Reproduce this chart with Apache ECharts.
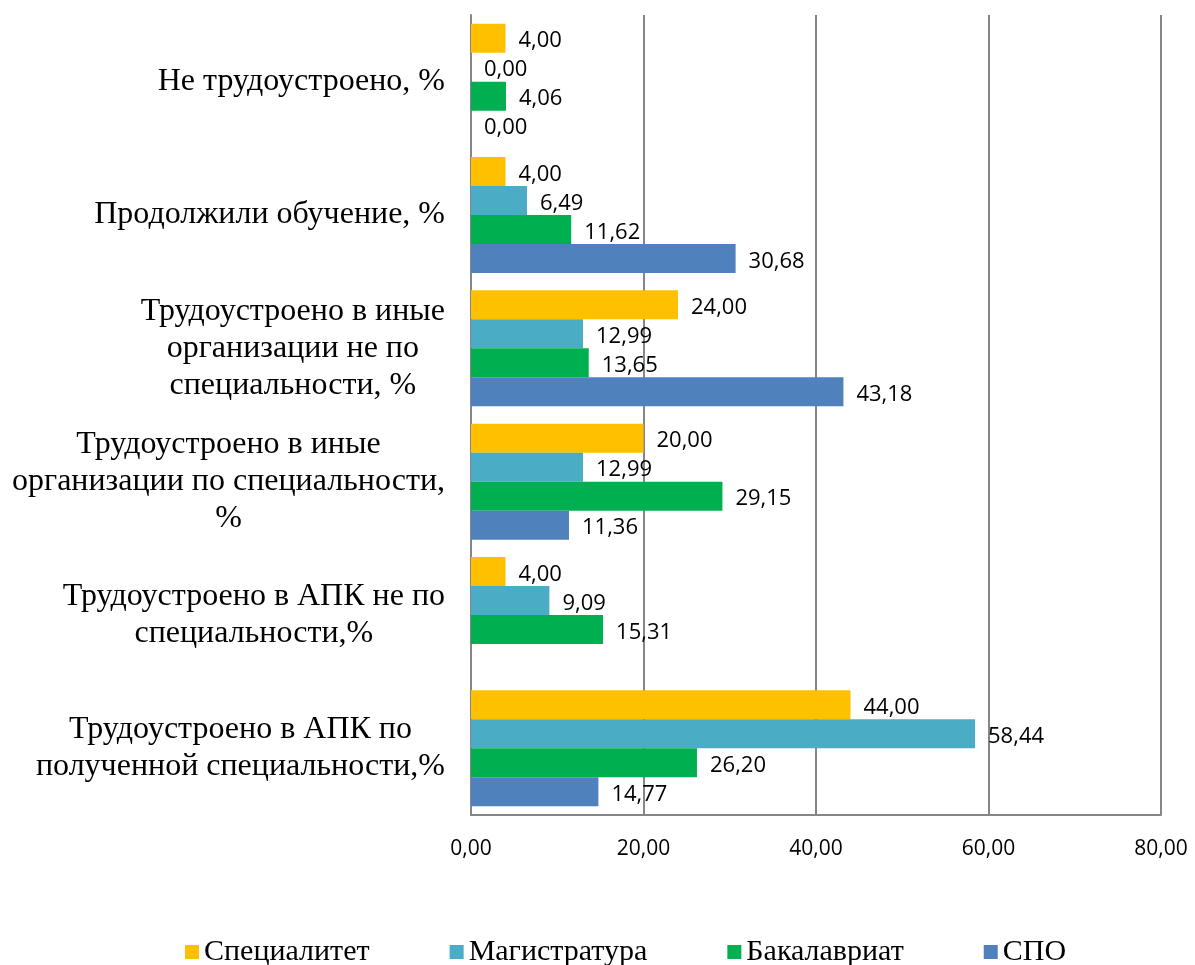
<!DOCTYPE html>
<html lang="ru">
<head>
    <meta charset="UTF-8">
    <title>Трудоустройство выпускников</title>
    <script src="https://cdn.jsdelivr.net/npm/echarts@6/dist/echarts.min.js"></script>
    <style>
        html, body { margin: 0; padding: 0; background: #fff; }
        #chart { width: 1195px; height: 965px; }
    </style>
</head>
<body>
<div id="chart"></div>
<script>
    // категории снизу вверх
    var categories = [
        'Трудоустроено в АПК по\nполученной специальности,%',
        'Трудоустроено в АПК не по\nспециальности,%',
        'Трудоустроено в иные\nорганизации по специальности,\n%',
        'Трудоустроено в иные\nорганизации не по\nспециальности, %',
        'Продолжили обучение, %',
        'Не трудоустроено, %'
    ];
    var seriesNames = ['Специалитет', 'Магистратура', 'Бакалавриат', 'СПО'];
    var specialitet = [44.00, 4.00, 20.00, 24.00, 4.00, 4.00];
    var magistratura = [58.44, 9.09, 12.99, 12.99, 6.49, 0.00];
    var bakalavriat = [26.20, 15.31, 29.15, 13.65, 11.62, 4.06];
    var spo = [14.77, null, 11.36, 43.18, 30.68, 0.00];
    var xTicks = [0, 20, 40, 60, 80];

    var colors = ['#FFC000', '#4BACC6', '#00B050', '#4F81BD'];
    var values = [specialitet, magistratura, bakalavriat, spo];

    function fmt(v) {
        return v.toFixed(2).replace('.', ',');
    }

    var series = seriesNames.map(function (name, i) {
        return {
            name: name,
            type: 'bar',
            barGap: '0%',
            barCategoryGap: '13%',
            itemStyle: { color: colors[i] },
            label: {
                show: true,
                position: 'right',
                distance: 13,
                offset: [0, 3],
                color: '#000',
                fontFamily: 'Open Sans',
                fontSize: 22,
                formatter: function (p) {
                    return p.value == null ? '' : fmt(p.value);
                }
            },
            data: values[i]
        };
    });

    var chart = echarts.init(document.getElementById('chart'));
    chart.setOption({
        animation: false,
        backgroundColor: '#fff',
        grid: { left: 471, right: 34, top: 15, bottom: 150 },
        legend: {
            data: seriesNames,
            left: 180,
            top: 932,
            icon: 'rect',
            itemWidth: 14,
            itemHeight: 14,
            itemGap: 80,
            textStyle: { fontFamily: 'Liberation Serif', fontSize: 30, color: '#000' }
        },
        xAxis: {
            type: 'value',
            min: xTicks[0],
            max: xTicks[xTicks.length - 1],
            interval: 20,
            axisLine: { show: true, lineStyle: { color: '#868686', width: 2 } },
            axisTick: { show: false },
            splitLine: { show: true, lineStyle: { color: '#868686', width: 2 } },
            axisLabel: {
                margin: 24,
                color: '#000',
                fontFamily: 'Open Sans',
                fontSize: 21,
                formatter: function (v) { return fmt(v); }
            }
        },
        yAxis: {
            type: 'category',
            data: categories,
            axisLine: { show: true, lineStyle: { color: '#868686', width: 2 } },
            axisTick: { show: false },
            axisLabel: {
                margin: 26,
                color: '#000',
                fontFamily: 'Liberation Serif',
                fontSize: 32,
                lineHeight: 37,
                formatter: function (v) {
                    return v.split('\n').map(function (s) { return '{c|' + s + '}'; }).join('\n');
                },
                rich: {
                    c: { align: 'center', fontFamily: 'Liberation Serif', fontSize: 32, lineHeight: 37, color: '#000' }
                }
            }
        },
        series: series
    });
</script>
</body>
</html>
